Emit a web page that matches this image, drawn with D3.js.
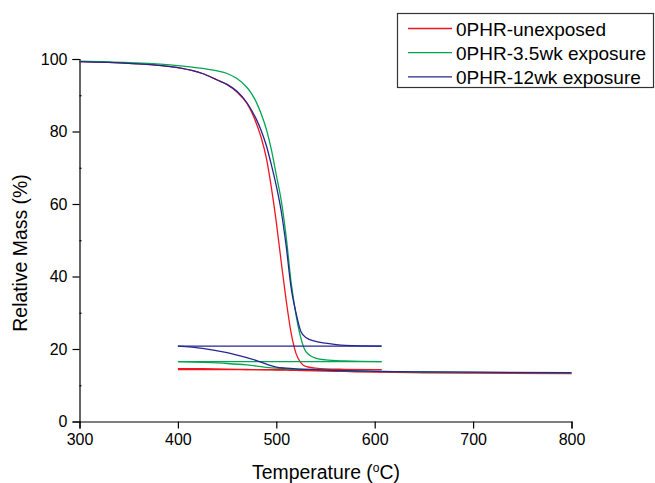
<!DOCTYPE html>
<html lang="en">

<head>
    <meta charset="UTF-8">
    <title>TGA</title>
    <script src="https://d3js.org/d3.v7.min.js"></script>
    <style>
        body { margin: 0; background: #fff; }
        text { font-family: "Liberation Sans", Arial, sans-serif; fill: #000; }
    </style>
</head>

<body>
    <script>

        // main heating curve, 300 -> 607 C
        var mainTemps = [300, 350, 400, 425, 440, 450, 460, 470, 475, 480, 485, 490, 495, 500, 505, 510, 515, 520, 525, 530, 540, 550, 570, 607];
        var unexposedMain = [99.3, 98.8, 97.6, 96.0, 94.2, 92.9, 90.9, 87.8, 85.3, 82.0, 78.0, 72.5, 64.5, 55.0, 44.0, 33.5, 24.5, 18.8, 16.2, 15.2, 14.7, 14.5, 14.4, 14.3];
        var wk35Main = [99.4, 99.0, 98.2, 97.4, 96.7, 96.0, 94.6, 92.2, 90.4, 87.9, 84.6, 80.5, 75.0, 68.0, 61.0, 51.0, 38.5, 29.5, 23.0, 19.3, 17.5, 17.0, 16.7, 16.5];
        var wk12Main = [99.3, 98.8, 97.6, 96.0, 94.2, 93.0, 91.1, 88.0, 85.8, 83.2, 80.0, 76.0, 70.8, 65.0, 58.0, 48.5, 37.0, 30.0, 24.8, 23.2, 22.1, 21.6, 21.0, 20.8];

        // second segment, 400 -> 800 C
        var lowTemps = [400, 425, 450, 470, 480, 490, 500, 510, 520, 540, 570, 600, 650, 700, 800];
        var unexposedLow = [14.6, 14.55, 14.45, 14.35, 14.3, 14.25, 14.2, 14.15, 14.1, 14.0, 13.8, 13.6, 13.45, 13.35, 13.2];
        var wk35Low = [16.5, 16.3, 16.0, 15.6, 15.3, 14.95, 14.7, 14.55, 14.45, 14.3, 14.0, 13.8, 13.65, 13.55, 13.4];
        var wk12Low = [20.8, 20.2, 19.0, 17.6, 16.8, 15.8, 15.0, 14.7, 14.5, 14.3, 14.0, 13.85, 13.7, 13.6, 13.5];

        var seriesNames = ["0PHR-unexposed", "0PHR-3.5wk exposure", "0PHR-12wk exposure"];
        var seriesColors = ["#f0151f", "#00a651", "#26268f"];
        var mainValues = [unexposedMain, wk35Main, wk12Main];
        var lowValues = [unexposedLow, wk35Low, wk12Low];

        var xTicks = [300, 400, 500, 600, 700, 800];
        var yTicks = [0, 20, 40, 60, 80, 100];
        var yMinor = [10, 30, 50, 70, 90];

        var width = 655, height = 483;

        var svg = d3.select("body").append("svg")
            .attr("width", width)
            .attr("height", height);

        var x = d3.scaleLinear().domain([300, 800]).range([79.5, 571.5]);
        var y = d3.scaleLinear().domain([0, 100]).range([421.5, 59]);

        // axes
        svg.append("g")
            .attr("transform", "translate(0," + y(0) + ")")
            .call(d3.axisBottom(x).tickValues(xTicks).tickSize(7).tickPadding(5).tickFormat(d3.format("d")));

        svg.append("g")
            .attr("transform", "translate(" + x(300) + ",0)")
            .call(d3.axisLeft(y).tickValues(yTicks).tickSize(7).tickPadding(5).tickFormat(d3.format("d")));

        svg.append("g")
            .attr("transform", "translate(" + x(300) + ",0)")
            .call(d3.axisRight(y).tickValues(yMinor).tickSize(2).tickFormat(""))
            .select(".domain").remove();

        svg.selectAll(".domain").attr("stroke", "#000").attr("stroke-width", 1.2);
        svg.selectAll(".tick line").attr("stroke", "#000").attr("stroke-width", 1.2);
        svg.selectAll(".tick text")
            .attr("font-family", "Liberation Sans, Arial, sans-serif")
            .attr("font-size", 16);

        // axis titles
        svg.append("text")
            .attr("transform", "translate(27," + 253 + ") rotate(-90)")
            .attr("text-anchor", "middle")
            .attr("font-size", 19.4)
            .text("Relative Mass (%)");

        var xt = svg.append("text")
            .attr("x", 326)
            .attr("y", 479)
            .attr("text-anchor", "middle")
            .attr("font-size", 19.4);
        xt.append("tspan").text("Temperature (");
        xt.append("tspan").attr("font-size", 12).attr("dy", -7).text("o");
        xt.append("tspan").attr("dy", 7).text("C)");

        // curves
        var line = d3.line()
            .x(function (d) { return x(d[0]); })
            .y(function (d) { return y(d[1]); })
            .curve(d3.curveMonotoneX);

        var straight = d3.line()
            .x(function (d) { return x(d[0]); })
            .y(function (d) { return y(d[1]); });

        var plot = svg.append("g").attr("fill", "none").attr("stroke-width", 1.3);

        seriesNames.forEach(function (name, i) {
            var main = mainTemps.map(function (t, j) { return [t, mainValues[i][j]]; });
            var low = lowTemps.map(function (t, j) { return [t, lowValues[i][j]]; });
            var last = main[main.length - 1];
            var back = [last, [lowTemps[0], last[1]]];

            plot.append("path").attr("d", line(main)).attr("stroke", seriesColors[i]);
            plot.append("path").attr("d", straight(back)).attr("stroke", seriesColors[i]);
            plot.append("path").attr("d", line(low)).attr("stroke", seriesColors[i]);
        });

        // legend
        var legend = svg.append("g");
        legend.append("rect")
            .attr("x", 397.5).attr("y", 13.5)
            .attr("width", 256).attr("height", 74)
            .attr("fill", "#fff")
            .attr("stroke", "#333")
            .attr("stroke-width", 1.2);

        var rows = legend.selectAll(".row")
            .data(seriesNames)
            .enter()
                .append("g")
                .attr("transform", function (d, i) { return "translate(0," + (28.5 + i * 24.2) + ")"; });

        rows.append("line")
            .attr("x1", 408).attr("x2", 452)
            .attr("stroke-width", 1.3)
            .attr("stroke", function (d, i) { return seriesColors[i]; });

        rows.append("text")
            .attr("x", 456)
            .attr("y", 7)
            .attr("font-size", 19)
            .text(function (d) { return d; });

    </script>

</body>

</html>
